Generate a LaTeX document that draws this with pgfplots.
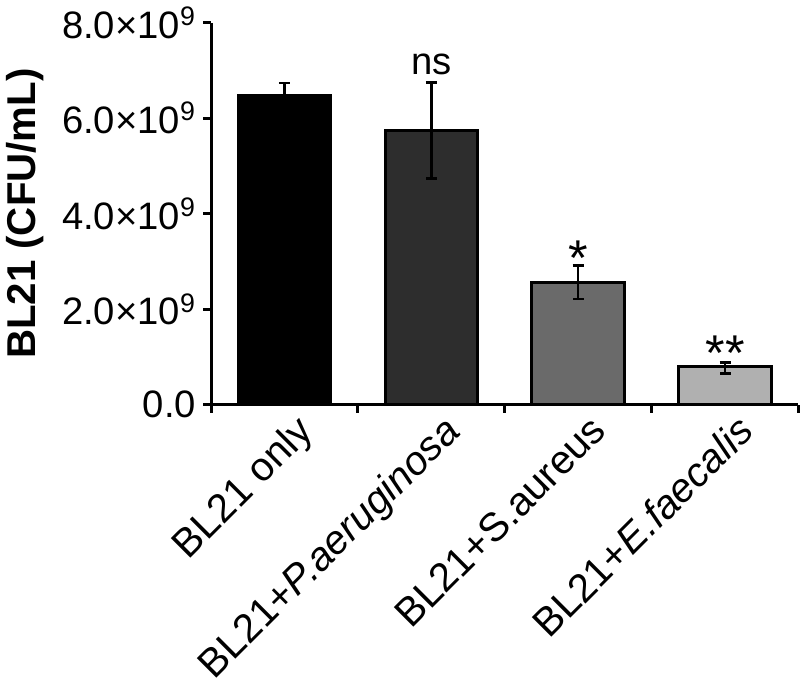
\documentclass[border=0pt]{standalone}
\usepackage{fontspec}
\setmainfont{Liberation Sans}
\usepackage{pgfplots}
\pgfplotsset{compat=1.18}
\definecolor{barA}{HTML}{000000}
\definecolor{barB}{HTML}{2D2D2D}
\definecolor{barC}{HTML}{6A6A6A}
\definecolor{barD}{HTML}{B0B0B0}
\begin{document}
\begin{tikzpicture}
\begin{axis}[
  scale only axis, width=292pt, height=190pt,
  xmin=-0.5, xmax=3.5, ymin=0, ymax=8,
  axis x line*=bottom, axis y line*=left,
  axis line style={line width=1.5pt},
  tick align=outside, tick pos=left,
  major tick length=4pt, minor tick length=4pt,
  every tick/.style={line width=1.5pt, black},
  ytick={0,2,4,6,8},
  yticklabels={0.0, 2.0×10\textsuperscript{9}, 4.0×10\textsuperscript{9}, 6.0×10\textsuperscript{9}, 8.0×10\textsuperscript{9}},
  xtick={0,1,2,3},
  major x tick style={draw=none},
  minor xtick={-0.5,0.5,1.5,2.5,3.5},
  xticklabels={BL21 only, BL21+\textit{P.aeruginosa}, BL21+S.aureus, BL21+\textit{E.faecalis}},
  y tick label style={font=\fontsize{19}{22}\selectfont},
  x tick label style={rotate=45, anchor=north east, xshift=7pt, font=\fontsize{20}{23}\selectfont},
  ylabel={\textbf{BL21 (CFU/mL)}},
  ylabel style={font=\fontsize{20}{23}\selectfont, yshift=2pt},
  error bars/error bar style={line width=1.25pt, black},
  error bars/error mark options={rotate=90, mark size=2.75pt, line width=1.25pt, black},
]
\addplot[ybar, bar width=46pt, fill=barA, draw=black, line width=1.5pt,
  error bars/.cd, y dir=both, y explicit]
  coordinates {(0,6.47) +- (0,0.26)};
\addplot[ybar, bar width=46pt, fill=barB, draw=black, line width=1.5pt,
  error bars/.cd, y dir=both, y explicit]
  coordinates {(1,5.74) +- (0,1.0)};
\addplot[ybar, bar width=46pt, fill=barC, draw=black, line width=1.5pt,
  error bars/.cd, y dir=both, y explicit]
  coordinates {(2,2.56) +- (0,0.35)};
\addplot[ybar, bar width=46pt, fill=barD, draw=black, line width=1.5pt,
  error bars/.cd, y dir=both, y explicit]
  coordinates {(3,0.81) += (0,0.07) -= (0,0.16)};
\node[anchor=base, yshift=4pt, font=\fontsize{19}{22}\selectfont] at (axis cs:1,6.74) {ns};
\node[anchor=base, yshift=-5pt, font=\fontsize{25}{27}\selectfont] at (axis cs:2,2.91) {*};
\node[anchor=base, yshift=-4pt, font=\fontsize{25}{27}\selectfont] at (axis cs:3,0.88) {**};
\end{axis}
\end{tikzpicture}
\end{document}
